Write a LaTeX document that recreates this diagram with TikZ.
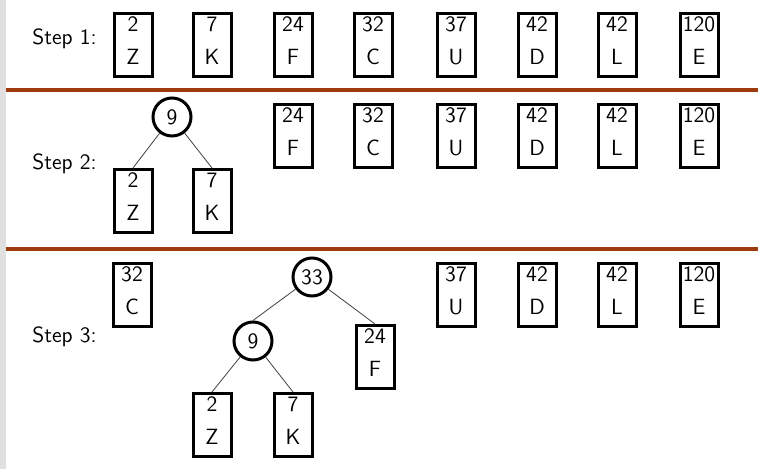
\documentclass[tikz,border=0pt]{standalone}
\usepackage{tikz}
\definecolor{rulebrown}{RGB}{158,58,12}
\definecolor{stripgray}{RGB}{224,224,224}

\begin{document}
\begin{tikzpicture}[x=0.5pt,y=-0.5pt,
        leafbox/.style={draw,line width=1.5pt,rectangle,inner sep=0pt,text width=19pt,
            text height=9pt,text depth=22.5pt,align=center,font=\fontsize{11}{16.5}\selectfont\sffamily},
        sumnode/.style={draw,line width=1.5pt,circle,inner sep=0pt,minimum size=19pt,
            font=\fontsize{11}{13}\selectfont\sffamily},
        link/.style={line width=0.4pt,black!75},
        steptext/.style={anchor=base west,inner sep=0pt,font=\fontsize{11}{13}\selectfont\sffamily}]
        \useasboundingbox (0,0) rectangle (769,469);
        % region
        \fill[stripgray] (0,0) rectangle (6,469);
        % rules
        \draw[rulebrown,line width=2pt] (6,90) -- (758,90);
        \draw[rulebrown,line width=2pt] (6,249) -- (758,249);
        % text
        \node[steptext] (s1) at (32,45) {Step 1:};
        \node[steptext] (s2) at (32,170) {Step 2:};
        \node[steptext] (s3) at (32,343) {Step 3:};
        % step 1
        \node[leafbox] (z1) at (133,45) {2\\Z};
        \node[leafbox] (k1) at (212,45) {7\\K};
        \node[leafbox] (f1) at (293,45) {24\\F};
        \node[leafbox] (c1) at (373,45) {32\\C};
        \node[leafbox] (u1) at (456,45) {37\\U};
        \node[leafbox] (d1) at (537,45) {42\\D};
        \node[leafbox] (l1) at (617,45) {42\\L};
        \node[leafbox] (e1) at (699,45) {120\\E};
        % step 2
        \node[sumnode] (n9b) at (172,117) {9};
        \node[leafbox] (z2) at (133,201) {2\\Z};
        \node[leafbox] (k2) at (212,201) {7\\K};
        \node[leafbox] (f2) at (293,136) {24\\F};
        \node[leafbox] (c2) at (373,136) {32\\C};
        \node[leafbox] (u2) at (456,136) {37\\U};
        \node[leafbox] (d2) at (537,136) {42\\D};
        \node[leafbox] (l2) at (617,136) {42\\L};
        \node[leafbox] (e2) at (699,136) {120\\E};
        \draw[link] (n9b) -- (z2.north);
        \draw[link] (n9b) -- (k2.north);
        % step 3
        \node[leafbox] (c3) at (132,295) {32\\C};
        \node[sumnode] (n33c) at (312,277) {33};
        \node[sumnode] (n9c) at (253,341) {9};
        \node[leafbox] (f3) at (375,357) {24\\F};
        \node[leafbox] (z3) at (212,425) {2\\Z};
        \node[leafbox] (k3) at (293,425) {7\\K};
        \node[leafbox] (u3) at (456,295) {37\\U};
        \node[leafbox] (d3) at (537,295) {42\\D};
        \node[leafbox] (l3) at (617,295) {42\\L};
        \node[leafbox] (e3) at (699,295) {120\\E};
        \draw[link] (n33c) -- (n9c.north);
        \draw[link] (n33c) -- (f3.north);
        \draw[link] (n9c) -- (z3.north);
        \draw[link] (n9c) -- (k3.north);
\end{tikzpicture}
\end{document}
